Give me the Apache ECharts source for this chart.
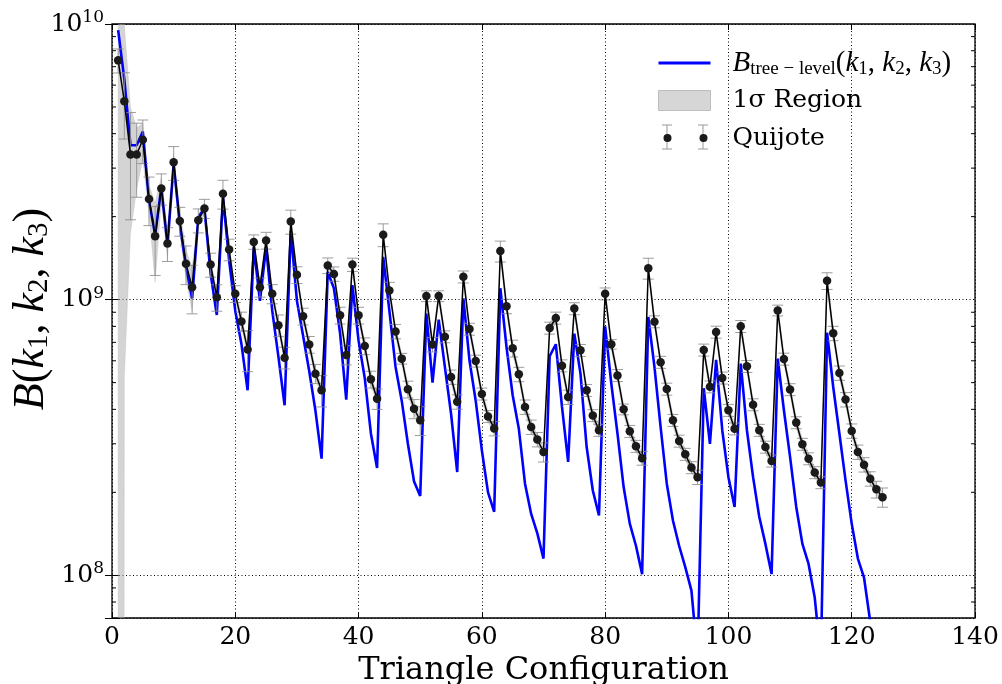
<!DOCTYPE html>
<html><head><meta charset="utf-8">
<script src="https://cdn.jsdelivr.net/npm/echarts@6/dist/echarts.min.js"></script>
<style>html,body{margin:0;padding:0;background:#fff}#c{width:1002px;height:684px}</style>
</head><body><div id="c"></div>
<script>
// Triangle configuration index
const configIds = [1,2,3,4,5,6,7,8,9,10,11,12,13,14,15,16,17,18,19,20,21,22,23,24,25,26,27,28,29,30,
31,32,33,34,35,36,37,38,39,40,41,42,43,44,45,46,47,48,49,50,51,52,53,54,55,56,57,58,59,60,
61,62,63,64,65,66,67,68,69,70,71,72,73,74,75,76,77,78,79,80,81,82,83,84,85,86,87,88,89,90,
91,92,93,94,95,96,97,98,99,100,101,102,103,104,105,106,107,108,109,110,111,112,113,114,115,116,117,118,119,120,
121,122,123,124,125];

// Quijote measured bispectrum (mean)
const quijote = [7.38e9,5.24e9,3.36e9,3.36e9,3.80e9,2.32e9,1.70e9,2.53e9,1.60e9,3.15e9,
1.93e9,1.35e9,1.11e9,1.94e9,2.14e9,1.34e9,1.02e9,2.42e9,1.52e9,1.05e9,
8.34e8,6.60e8,1.62e9,1.11e9,1.64e9,1.05e9,8.07e8,6.16e8,1.92e9,1.23e9,
8.70e8,6.87e8,5.39e8,4.69e8,1.33e9,1.24e9,8.77e8,6.30e8,1.34e9,8.77e8,
6.79e8,5.14e8,4.37e8,1.72e9,1.08e9,7.67e8,6.11e8,4.73e8,4.02e8,3.65e8,
1.03e9,6.87e8,1.03e9,7.34e8,5.24e8,4.26e8,1.21e9,7.82e8,5.99e8,4.55e8,
3.77e8,3.41e8,1.50e9,9.46e8,6.66e8,5.36e8,4.08e8,3.45e8,3.11e8,2.80e8,
7.89e8,8.58e8,5.76e8,4.43e8,9.28e8,6.55e8,4.69e8,3.80e8,3.36e8,1.05e9,
6.89e8,5.31e8,4.00e8,3.33e8,2.94e8,2.66e8,1.30e9,8.32e8,5.93e8,4.74e8,
3.65e8,3.07e8,2.75e8,2.46e8,2.27e8,6.57e8,4.83e8,7.63e8,5.20e8,3.97e8,
3.40e8,8.00e8,5.73e8,4.16e8,3.36e8,2.92e8,2.60e8,9.14e8,6.09e8,4.72e8,
3.58e8,2.99e8,2.65e8,2.36e8,2.17e8,1.17e9,7.55e8,5.42e8,4.34e8,3.34e8,
2.80e8,2.52e8,2.24e8,2.05e8,1.92e8];

// Quijote error bar half-width, as a fraction of the mean
const quijoteErrFrac = [0.10,0.27,0.42,0.30,0.18,0.20,0.28,0.13,0.14,0.14,
0.12,0.16,0.20,0.10,0.08,0.10,0.11,0.12,0.09,0.07,
0.08,0.17,0.06,0.08,0.07,0.08,0.09,0.09,0.10,0.07,
0.07,0.07,0.08,0.13,0.065,0.06,0.07,0.08,0.055,0.07,
0.07,0.07,0.085,0.095,0.07,0.06,0.045,0.07,0.08,0.12,
0.045,0.06,0.045,0.05,0.06,0.06,0.05,0.05,0.05,0.05,
0.05,0.06,0.087,0.06,0.07,0.06,0.06,0.06,0.06,0.08,
0.05,0.05,0.05,0.06,0.05,0.05,0.05,0.05,0.05,0.05,
0.04,0.05,0.045,0.05,0.05,0.057,0.087,0.05,0.05,0.05,
0.05,0.05,0.05,0.05,0.06,0.05,0.05,0.05,0.05,0.05,
0.05,0.05,0.05,0.05,0.05,0.05,0.05,0.045,0.05,0.05,
0.05,0.05,0.05,0.05,0.05,0.07,0.06,0.06,0.06,0.06,
0.06,0.06,0.06,0.07,0.08];

// 1-sigma shaded region half-width, as a fraction of the mean
const bandFrac = [1.20,0.90,0.48,0.25,0.15,0.12,0.32,0.10,0.12,0.08,
0.10,0.12,0.18,0.05,0.05,0.05,0.05,0.05,0.05,0.05,
0.05,0.05,0.045,0.045,0.045,0.045,0.045,0.045,0.045,0.045,
0.045,0.045,0.045,0.045,0.045,0.045,0.045,0.045,0.045,0.045,
0.045,0.045,0.045,0.045,0.045,0.045,0.045,0.045,0.045,0.045,
0.045,0.045,0.045,0.045,0.045,0.045,0.045,0.045,0.045,0.045,
0.045,0.045,0.045,0.045,0.045,0.045,0.045,0.045,0.045,0.045,
0.045,0.045,0.045,0.045,0.045,0.045,0.045,0.045,0.045,0.045,
0.045,0.045,0.045,0.045,0.045,0.045,0.045,0.045,0.045,0.045,
0.045,0.045,0.045,0.045,0.045,0.045,0.045,0.045,0.045,0.045,
0.045,0.045,0.045,0.045,0.045,0.045,0.045,0.045,0.045,0.045,
0.045,0.045,0.045,0.045,0.045,0.045,0.045,0.045,0.045,0.045,
0.045,0.045,0.045,0.045,0.045];

// Tree-level bispectrum prediction
const treeLevel = [9.5e9,6.3e9,3.63e9,3.63e9,4.07e9,2.29e9,1.72e9,2.55e9,1.58e9,3.10e9,
1.88e9,1.32e9,1.01e9,1.99e9,2.14e9,1.24e9,8.8e8,2.36e9,1.39e9,9.1e8,
6.9e8,4.69e8,1.55e9,9.9e8,1.55e9,9.1e8,6.2e8,4.14e8,1.78e9,9.9e8,
7.4e8,5.5e8,3.96e8,2.65e8,1.26e9,1.10e9,7.55e8,4.34e8,1.13e9,7.1e8,
5.2e8,3.27e8,2.45e8,1.43e9,9.1e8,5.7e8,4.3e8,3.0e8,2.19e8,1.94e8,
8.9e8,5.0e8,8.46e8,5.7e8,3.86e8,2.37e8,1.01e9,6.0e8,4.3e8,2.84e8,
2.0e8,1.70e8,1.10e9,6.73e8,4.5e8,3.4e8,2.15e8,1.67e8,1.42e8,1.15e8,
6.24e8,6.89e8,4.08e8,2.58e8,7.53e8,5.39e8,2.92e8,2.03e8,1.65e8,8.0e8,
4.96e8,3.27e8,2.09e8,1.54e8,1.28e8,1.01e8,8.65e8,5.7e8,3.45e8,2.15e8,
1.58e8,1.28e8,1.07e8,8.8e7,5.0e7,4.77e8,3.0e8,6.05e8,3.36e8,2.27e8,
1.77e8,5.86e8,3.36e8,2.27e8,1.63e8,1.30e8,1.01e8,6.11e8,3.97e8,2.69e8,
1.77e8,1.30e8,1.10e8,8.3e7,5.0e7,7.59e8,4.82e8,3.27e8,2.21e8,1.54e8,
1.15e8,9.8e7,6.8e7,5.0e7,4.0e7];

// Axis ticks
const xTicks = [0,20,40,60,80,100,120,140];
const yMajorTicks = [1e8,1e9,1e10];
const yMinorTicks = [8e7,9e7,2e8,3e8,4e8,5e8,6e8,7e8,8e8,9e8,2e9,3e9,4e9,5e9,6e9,7e9,8e9,9e9];
const yMin = 7e7, yMax = 1e10;

const serif = 'DejaVu Serif';
const mathIt = 'Liberation Serif';

const quijotePts = configIds.map((x, i) => [x, quijote[i]]);
const treePts = configIds.map((x, i) => [x, treeLevel[i]]);
const errPts = configIds.map((x, i) => [x, quijote[i] * (1 - quijoteErrFrac[i]), quijote[i] * (1 + quijoteErrFrac[i])]);
const bandLow = configIds.map((x, i) => Math.max(quijote[i] * (1 - bandFrac[i]), 1e-20));
const bandHigh = configIds.map((x, i) => quijote[i] * (1 + bandFrac[i]));

const chart = echarts.init(document.getElementById('c'));

const supRich = {
  b: {fontFamily: serif, fontSize: 25, lineHeight: 30, color: '#000'},
  s: {fontFamily: serif, fontSize: 17, lineHeight: 17, verticalAlign: 'top', color: '#000'}
};

const legendRich = {
  it: {fontFamily: mathIt, fontStyle: 'italic', fontSize: 29, lineHeight: 32, color: '#000'},
  rm: {fontFamily: serif, fontSize: 25, lineHeight: 32, color: '#000'},
  mr: {fontFamily: mathIt, fontSize: 29, lineHeight: 32, color: '#000'},
  sub: {fontFamily: mathIt, fontSize: 19, lineHeight: 20, verticalAlign: 'bottom', color: '#000'}
};

const yNameRich = {
  it: {fontFamily: mathIt, fontStyle: 'italic', fontSize: 44, lineHeight: 46, color: '#000'},
  mr: {fontFamily: mathIt, fontSize: 44, lineHeight: 46, color: '#000'},
  sub: {fontFamily: mathIt, fontSize: 29, lineHeight: 27, verticalAlign: 'bottom', color: '#000'}
};

// legend icons, each drawn in a 52 x 32 box
const lineIcon = 'path://M0,14.5H52V17.5H0ZM0,0H0.01V0.01H0ZM51.99,31.99H52V32H51.99Z';
const bandIcon = 'path://M0,6H52V26H0ZM0,0H0.01V0.01H0ZM51.99,31.99H52V32H51.99Z';
const dotsIcon = 'path://M5,16a4,4 0 1,0 8,0a4,4 0 1,0 -8,0ZM41,16a4,4 0 1,0 8,0a4,4 0 1,0 -8,0ZM0,0H0.01V0.01H0ZM51.99,31.99H52V32H51.99Z';
const barsIcon = 'path://M8.5,3.5H9.5V28.5H8.5ZM4,3.5H14V4.5H4ZM4,27.5H14V28.5H4ZM44.5,3.5H45.5V28.5H44.5ZM40,3.5H50V4.5H40ZM40,27.5H50V28.5H40ZM0,0H0.01V0.01H0ZM51.99,31.99H52V32H51.99Z';

const legendLeft = 658;
const legendTop = 47;
const rowH = 32, rowGap = 5;

const option = {
  animation: false,
  backgroundColor: '#fff',
  grid: {left: 112, right: 27, top: 24, bottom: 66, outerBoundsMode: 'none', containLabel: false,
         show: true, borderColor: '#000', borderWidth: 1.3, backgroundColor: 'transparent'},
  legend: [{
    orient: 'vertical', left: legendLeft, top: legendTop, padding: 0,
    itemWidth: 52, itemHeight: rowH, itemGap: rowGap,
    data: [
      {name: 'tree', icon: lineIcon, itemStyle: {color: '#0000ff'}},
      {name: 'band', icon: bandIcon, itemStyle: {color: '#d6d6d6', borderColor: '#bdbdbd', borderWidth: 1}},
      {name: 'Quijote', icon: dotsIcon, itemStyle: {color: '#1a1a1a'}}
    ],
    formatter: n => ({
      tree: '{it|B}{sub|tree − level}{mr|(}{it|k}{sub|1}{mr|, }{it|k}{sub|2}{mr|, }{it|k}{sub|3}{mr|)}',
      band: '{rm|1σ Region}',
      Quijote: '{rm|Quijote}'
    })[n],
    textStyle: {rich: legendRich, padding: [0, 0, 0, 17]},
    selectedMode: false, z: 10
  }, {
    orient: 'vertical', left: legendLeft, top: legendTop + 2 * (rowH + rowGap), padding: 0,
    itemWidth: 52, itemHeight: rowH,
    data: [{name: 'Quijote err', icon: barsIcon, itemStyle: {color: '#9a9a9a'}}],
    formatter: () => '', selectedMode: false, z: 9
  }],
  xAxis: [{
    type: 'value', min: 0, max: 140, interval: 20,
    name: 'Triangle Configuration', nameLocation: 'middle', nameGap: 34,
    nameTextStyle: {fontFamily: serif, fontSize: 32, color: '#000'},
    axisLine: {show: false},
    axisTick: {show: true, inside: true, length: 6, lineStyle: {color: '#000', width: 1}},
    axisLabel: {fontFamily: serif, fontSize: 25, color: '#000', margin: 7},
    splitLine: {show: true, lineStyle: {color: '#000', width: 1, type: [1, 2.5]}}
  }, {
    type: 'value', min: 0, max: 140, interval: 20, position: 'top',
    axisLine: {show: false},
    axisTick: {show: true, inside: true, length: 6, lineStyle: {color: '#000', width: 1}},
    axisLabel: {show: false}, splitLine: {show: false}
  }],
  yAxis: [{
    type: 'log', logBase: 10, min: yMin, max: yMax,
    name: '{it|B}{mr|(}{it|k}{sub|1}{mr|, }{it|k}{sub|2}{mr|, }{it|k}{sub|3}{mr|)}',
    nameLocation: 'middle', nameGap: 58, nameRotate: 90, nameMoveOverlap: false,
    nameTextStyle: {rich: yNameRich, padding: [0, 0, 0, 24]},
    axisLine: {show: false},
    axisTick: {show: true, inside: true, length: 7, lineStyle: {color: '#000', width: 1}},
    axisLabel: {
      margin: 8,
      formatter: v => {
        const e = Math.log10(v);
        if (Math.abs(e - Math.round(e)) > 1e-6) return '';
        return '{b|10}{s|' + Math.round(e) + '}';
      },
      rich: supRich
    },
    splitLine: {show: true, lineStyle: {color: '#000', width: 1, type: [1, 2.5]}}
  }, {
    type: 'log', logBase: 10, min: yMin, max: yMax, position: 'right',
    axisLine: {show: false},
    axisTick: {show: true, inside: true, length: 7, lineStyle: {color: '#000', width: 1}},
    axisLabel: {show: false}, splitLine: {show: false}
  }],
  series: [
    {
      name: 'band', type: 'custom', xAxisIndex: 0, yAxisIndex: 0, clip: true, silent: true, z: 1,
      itemStyle: {color: '#d6d6d6'},
      data: [[configIds[0], quijote[0]]],
      renderItem: (params, api) => {
        const pts = [];
        for (let i = 0; i < configIds.length; i++) pts.push(api.coord([configIds[i], bandHigh[i]]));
        for (let i = configIds.length - 1; i >= 0; i--) pts.push(api.coord([configIds[i], bandLow[i]]));
        return {type: 'polygon', shape: {points: pts}, style: {fill: 'rgba(170,170,170,0.5)', stroke: 'rgba(170,170,170,0.5)', lineWidth: 0.5}};
      }
    },
    {
      name: 'tree', type: 'line', xAxisIndex: 0, yAxisIndex: 0, data: treePts,
      showSymbol: false, symbol: 'none', clip: true, z: 2,
      lineStyle: {color: '#0000ff', width: 2.6}, itemStyle: {color: '#0000ff'}
    },
    {
      name: 'Quijote err', type: 'custom', xAxisIndex: 0, yAxisIndex: 0, clip: true, silent: true, z: 3,
      itemStyle: {color: '#9a9a9a'},
      data: errPts, encode: {x: 0, y: [1, 2]},
      renderItem: (params, api) => {
        const x = api.value(0);
        const lo = api.coord([x, api.value(1)]);
        const hi = api.coord([x, api.value(2)]);
        const cw = 5.5;
        const st = {stroke: 'rgba(140,140,140,0.85)', lineWidth: 1};
        return {type: 'group', children: [
          {type: 'line', shape: {x1: lo[0], y1: lo[1], x2: hi[0], y2: hi[1]}, style: st},
          {type: 'line', shape: {x1: lo[0] - cw, y1: lo[1], x2: lo[0] + cw, y2: lo[1]}, style: st},
          {type: 'line', shape: {x1: hi[0] - cw, y1: hi[1], x2: hi[0] + cw, y2: hi[1]}, style: st}
        ]};
      }
    },
    {
      name: 'Quijote', type: 'line', xAxisIndex: 0, yAxisIndex: 0, data: quijotePts,
      symbol: 'circle', symbolSize: 8.5, showSymbol: true, clip: true, z: 4,
      lineStyle: {color: '#000', width: 1.5}, itemStyle: {color: '#1a1a1a'}
    },
    {
      name: 'minor ticks', type: 'custom', xAxisIndex: 0, yAxisIndex: 0, silent: true, z: 5,
      data: yMinorTicks.map(v => [0, v]), encode: {x: 0, y: 1},
      renderItem: (params, api) => {
        const p = api.coord([0, api.value(1)]);
        const cs = params.coordSys;
        const len = 4;
        const st = {stroke: '#000', lineWidth: 1};
        return {type: 'group', children: [
          {type: 'line', shape: {x1: cs.x, y1: p[1], x2: cs.x + len, y2: p[1]}, style: st},
          {type: 'line', shape: {x1: cs.x + cs.width, y1: p[1], x2: cs.x + cs.width - len, y2: p[1]}, style: st}
        ]};
      }
    }
  ]
};
chart.setOption(option);
</script></body></html>
